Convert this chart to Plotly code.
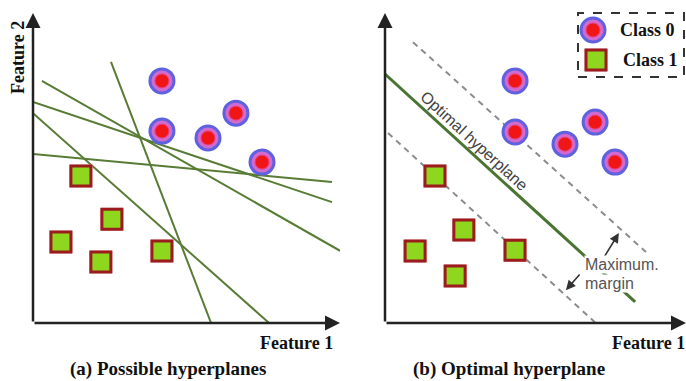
import plotly.graph_objects as go

# ---------------- data (feature units) ----------------
left_c0_x = [4.20, 4.20, 6.61, 5.70, 7.46]
left_c0_y = [7.81, 6.19, 6.77, 5.97, 5.19]
left_c1_x = [1.56, 2.57, 0.91, 2.21, 4.20]
left_c1_y = [4.74, 3.35, 2.61, 1.97, 2.32]

right_c0_x = [4.32, 4.32, 5.98, 6.98, 7.64]
right_c0_y = [7.81, 6.16, 5.77, 6.48, 5.19]
right_c1_x = [1.66, 2.62, 1.00, 4.32, 2.33]
right_c1_y = [4.74, 3.00, 2.32, 2.35, 1.52]

# candidate hyperplanes: (x0, y0, x1, y1)
candidate_lines = [
    (0.29, 7.81, 10.0, 2.33),
    (0.00, 7.13, 9.74, 3.90),
    (0.00, 6.77, 7.69, 0.00),
    (0.00, 5.45, 9.74, 4.55),
    (2.54, 8.42, 5.80, 0.00),
]
optimal_line = (0.00, 8.03, 8.31, 0.68)
margin_upper = (0.93, 9.06, 8.67, 2.29)
margin_lower = (0.10, 6.13, 7.00, 0.00)
margin_arrow_up = (7.18, 1.97, 7.77, 2.90)
margin_arrow_down = (6.51, 1.61, 6.01, 1.06)

# ---------------- styles ----------------
W, H = 686, 381
GREEN = "#587c35"
SERIF = "Liberation Serif, Times New Roman, serif"
SANS = "Liberation Sans, Arial, sans-serif"


def seg_xy(segs):
    xs, ys = [], []
    for x0, y0, x1, y1 in segs:
        xs += [x0, x1, None]
        ys += [y0, y1, None]
    return xs, ys


def class0(fig, xs, ys, xa, ya):
    fig.add_trace(go.Scatter(x=xs, y=ys, mode="markers", xaxis=xa, yaxis=ya,
                             marker=dict(symbol="circle", size=24, color="#d36ad0",
                                         line=dict(color="#5f62e0", width=3)),
                             hoverinfo="skip", showlegend=False, cliponaxis=False))
    fig.add_trace(go.Scatter(x=xs, y=ys, mode="markers", xaxis=xa, yaxis=ya,
                             marker=dict(symbol="circle", size=14, color="#f01616",
                                         line=dict(color="#e8407a", width=1)),
                             hoverinfo="skip", showlegend=False, cliponaxis=False))


def class1(fig, xs, ys, xa, ya):
    fig.add_trace(go.Scatter(x=xs, y=ys, mode="markers", xaxis=xa, yaxis=ya,
                             marker=dict(symbol="square", size=22, color="#f2b9a8",
                                         line=dict(color="#f0b0c0", width=1)),
                             hoverinfo="skip", showlegend=False, cliponaxis=False))
    fig.add_trace(go.Scatter(x=xs, y=ys, mode="markers", xaxis=xa, yaxis=ya,
                             marker=dict(symbol="square", size=20, color="#8fd61e",
                                         line=dict(color="#9b1c1c", width=3)),
                             hoverinfo="skip", showlegend=False, cliponaxis=False))


fig = go.Figure()

# left panel lines
lx, ly = seg_xy(candidate_lines)
fig.add_trace(go.Scatter(x=lx, y=ly, mode="lines", xaxis="x", yaxis="y",
                         line=dict(color=GREEN, width=2), hoverinfo="skip", showlegend=False))
class0(fig, left_c0_x, left_c0_y, "x", "y")
class1(fig, left_c1_x, left_c1_y, "x", "y")

# right panel lines
dx, dy = seg_xy([margin_upper, margin_lower])
fig.add_trace(go.Scatter(x=dx, y=dy, mode="lines", xaxis="x2", yaxis="y2",
                         line=dict(color="#8c8c8c", width=2, dash="6px,5px"),
                         hoverinfo="skip", showlegend=False))
ox, oy = seg_xy([optimal_line])
fig.add_trace(go.Scatter(x=ox, y=oy, mode="lines", xaxis="x2", yaxis="y2",
                         line=dict(color="#4a7432", width=3), hoverinfo="skip", showlegend=False))
class0(fig, right_c0_x, right_c0_y, "x2", "y2")
class1(fig, right_c1_x, right_c1_y, "x2", "y2")

# legend markers in pixel-space overlay axis
class0(fig, [593], [30], "x3", "y3")
class1(fig, [596], [60], "x3", "y3")

ymin = 1 - 323 / H
ymax = 1 - 13 / H
ax_common = dict(visible=False, showgrid=False, zeroline=False, fixedrange=True)
fig.update_layout(
    width=W, height=H,
    margin=dict(l=0, r=0, t=0, b=0),
    paper_bgcolor="white", plot_bgcolor="rgba(0,0,0,0)",
    xaxis=dict(domain=[33 / W, 340 / W], range=[0, 10], anchor="y", **ax_common),
    yaxis=dict(domain=[ymin, ymax], range=[0, 10], anchor="x", **ax_common),
    xaxis2=dict(domain=[385 / W, 1.0], range=[0, 10], anchor="y2", **ax_common),
    yaxis2=dict(domain=[ymin, ymax], range=[0, 10], anchor="x2", **ax_common),
    xaxis3=dict(domain=[0, 1], range=[0, W], anchor="y3", **ax_common),
    yaxis3=dict(domain=[0, 1], range=[H, 0], anchor="x3", **ax_common),
    showlegend=False,
)

ann = []
# axis arrows
for xr, yr in (("x", "y"), ("x2", "y2")):
    for hx, hy in ((0, 10), (10, 0)):
        ann.append(dict(x=hx, y=hy, ax=0, ay=0, xref=xr, yref=yr, axref=xr, ayref=yr,
                        text="", showarrow=True, arrowhead=2, arrowsize=1.2,
                        arrowwidth=2.5, arrowcolor="#222", standoff=0, startstandoff=0))

# margin arrows
for (tx, ty, hx, hy) in (margin_arrow_up, margin_arrow_down):
    ann.append(dict(x=hx, y=hy, ax=tx, ay=ty, xref="x2", yref="y2", axref="x2", ayref="y2",
                    text="", showarrow=True, arrowhead=2, arrowsize=1.2,
                    arrowwidth=1.6, arrowcolor="#333", standoff=0))


def ptext(px, py, s, xanchor="center", angle=0, size=18, family=SERIF, color="#111",
          bold=True, bg=None):
    d = dict(x=px / W, y=1 - py / H, xref="paper", yref="paper",
             text=("<b>" + s + "</b>") if bold else s,
             showarrow=False, xanchor=xanchor, yanchor="middle", textangle=angle,
             font=dict(family=family, size=size, color=color), borderpad=0)
    if bg:
        d["bgcolor"] = bg
    return d


ann.append(ptext(584, 264, "Maximum.", xanchor="left", size=16, family=SANS,
                 color="#555", bold=False, bg="white"))
ann.append(ptext(584, 283, "margin", xanchor="left", size=16, family=SANS,
                 color="#555", bold=False, bg="white"))
ann.append(dict(x=2.99, y=5.87, xref="x2", yref="y2", text="Optimal hyperplane",
                showarrow=False, textangle=42.5, xanchor="center", yanchor="middle",
                font=dict(family=SANS, size=16, color="#444")))

ann.append(ptext(18, 58, "Feature 2", angle=-90))
ann.append(ptext(334, 343, "Feature 1", xanchor="right"))
ann.append(ptext(686, 343, "Feature 1", xanchor="right"))
ann.append(ptext(168, 369, "(a) Possible hyperplanes", size=19))
ann.append(ptext(509, 369, "(b) Optimal hyperplane", size=19))
ann.append(ptext(619, 30, "Class 0", xanchor="left"))
ann.append(ptext(622, 60, "Class 1", xanchor="left"))
fig.update_layout(annotations=ann)

# dashed legend box
fig.add_shape(type="rect", xref="paper", yref="paper",
              x0=578 / W, x1=684 / W, y0=1 - 77 / H, y1=1 - 13 / H,
              line=dict(color="#333", width=2, dash="dash"), fillcolor="rgba(0,0,0,0)", layer="below")

fig.write_html("out.html", config={"displayModeBar": False},
               post_script="document.body.style.margin='0';")
